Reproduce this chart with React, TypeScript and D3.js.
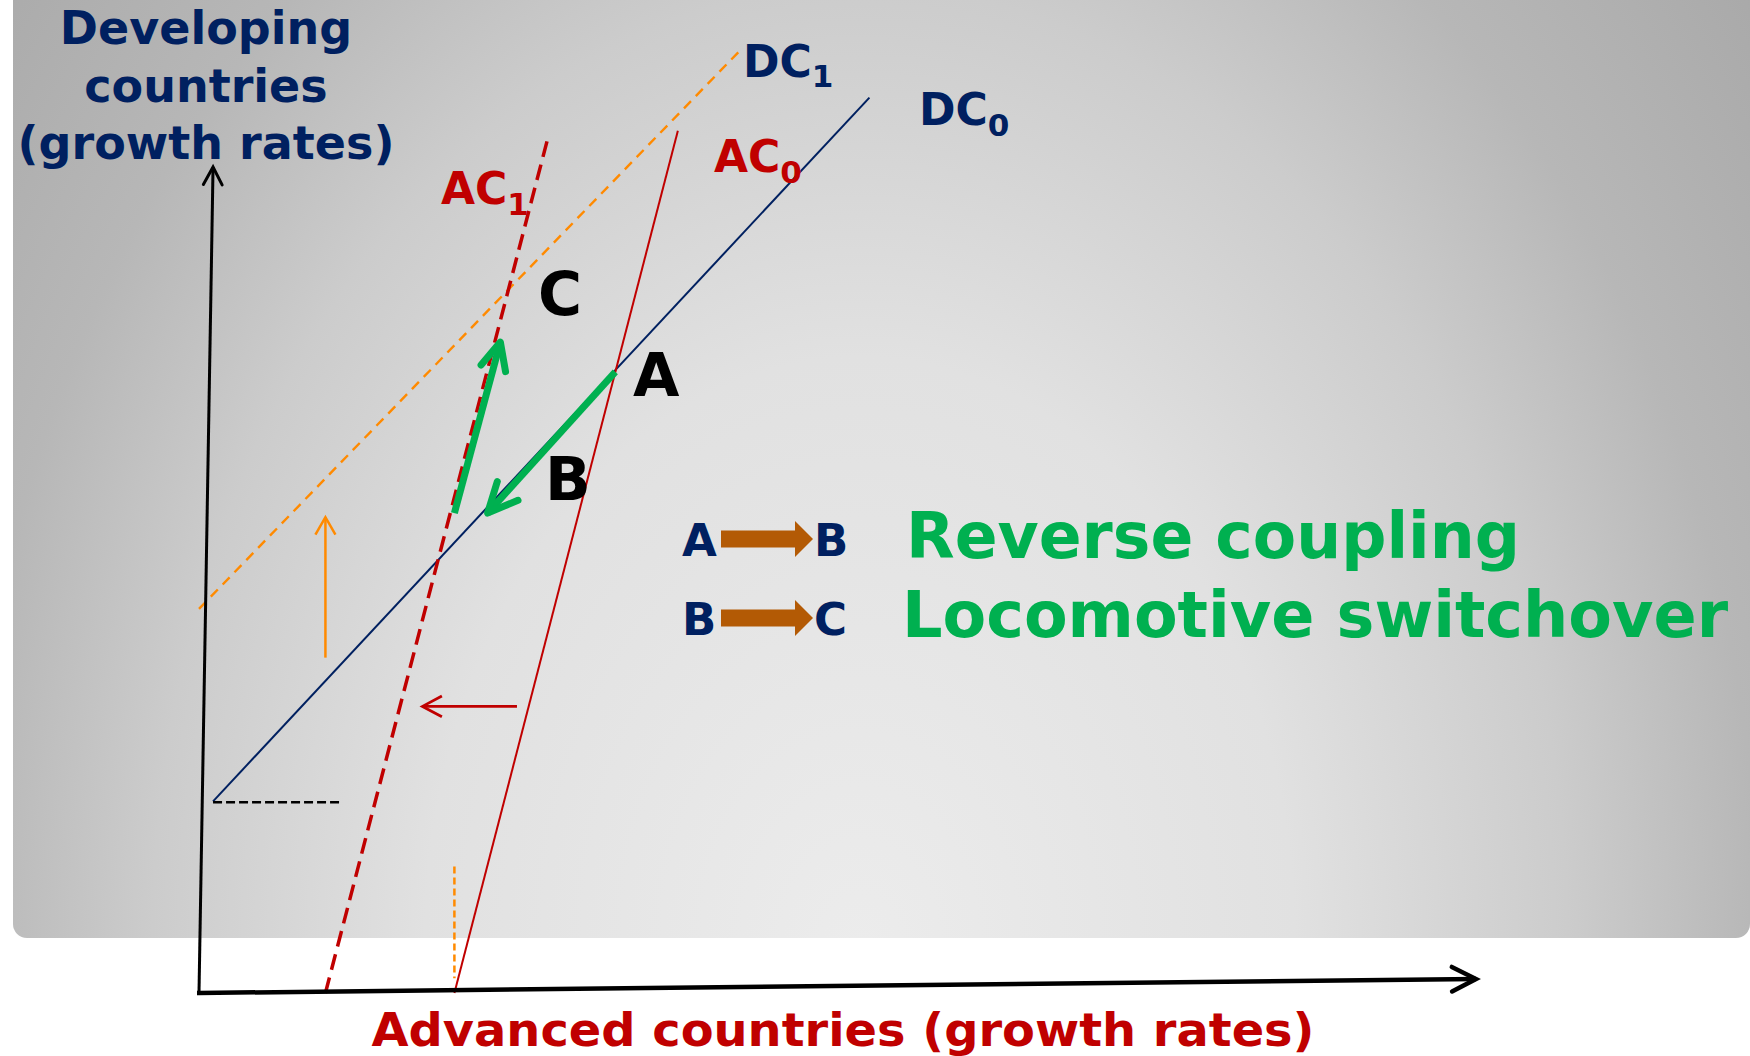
import React from "react";
import * as d3 from "d3";

type P = [number, number];

const W = 1750;
const H = 1056;

// Axes (data units, growth rates on an arbitrary 0-100 scale)
const yAxisPts: P[] = [[0, 0], [1.1, 100]];
const xAxisPts: P[] = [[0, 0], [100, 1.7]];

// Schedules
const DC0: P[] = [[1.1, 23.2], [52.5, 108.4]];
const DC1: P[] = [[0, 46.5], [42.3, 114.0]];
const AC0: P[] = [[20.0, 0], [37.5, 104.4]];
const AC1: P[] = [[9.9, 0], [27.3, 103.4]];

// Guides and shifts
const floorLine: P[] = [[1.1, 23.1], [11.0, 23.1]];
const shiftDC: P[] = [[9.9, 40.6], [9.9, 57.6]];
const shiftAC: P[] = [[24.9, 34.7], [17.5, 34.7]];
const guideAC: P[] = [[20.0, 15.3], [20.0, 1.8]];

// Moves between equilibria
const moveAB: P[] = [[32.6, 75.2], [22.6, 58.1]];
const moveBC: P[] = [[20.0, 58.1], [23.6, 78.8]];

const yTitle = ["Developing", "countries", "(growth rates)"];
const xTitle = "Advanced countries (growth rates)";
const legendRows = [
  { from: "A", to: "B", text: "Reverse coupling" },
  { from: "B", to: "C", text: "Locomotive switchover" },
];

const NAVY = "#002060";
const RED = "#c00000";
const GREEN = "#00b050";
const ORANGE = "#ff8a00";
const BROWN = "#b35a05";
const FONT = "'DejaVu Sans', Verdana, sans-serif";

export default function App() {
  const x = d3.scaleLinear().domain([0, 100]).range([199, 1476]);
  const y = d3.scaleLinear().domain([0, 100]).range([993, 167]);
  const line = d3
    .line<P>()
    .x((d) => x(d[0]))
    .y((d) => y(d[1]));

  const chevron = (pts: P[], len: number, halfDeg: number) => {
    const p0 = pts[pts.length - 2];
    const p1 = pts[pts.length - 1];
    const tx = x(p1[0]);
    const ty = y(p1[1]);
    const px = x(p0[0]);
    const py = y(p0[1]);
    const ang = Math.atan2(py - ty, px - tx);
    const h = (halfDeg * Math.PI) / 180;
    const a1 = [tx + len * Math.cos(ang + h), ty + len * Math.sin(ang + h)];
    const a2 = [tx + len * Math.cos(ang - h), ty + len * Math.sin(ang - h)];
    return `M${a1[0]},${a1[1]}L${tx},${ty}L${a2[0]},${a2[1]}`;
  };

  const blockArrow = (x0: number, x1: number, cy: number) => {
    const hl = 18;
    const bh = 8.5;
    const hh = 18;
    return `M${x0},${cy - bh}L${x1 - hl},${cy - bh}L${x1 - hl},${cy - hh}L${x1},${cy}L${x1 - hl},${cy + hh}L${x1 - hl},${cy + bh}L${x0},${cy + bh}Z`;
  };

  return (
    <svg
      width={W}
      height={H}
      style={{ position: "absolute", left: 0, top: 0, background: "#fff" }}
    >
      <defs>
        <radialGradient
          id="bg"
          gradientUnits="userSpaceOnUse"
          cx={0}
          cy={0}
          r={1}
          gradientTransform="translate(860,950) scale(1160,1580)"
        >
          <stop offset="0" stopColor="#ececec" />
          <stop offset="0.375" stopColor="#e1e1e1" />
          <stop offset="0.61" stopColor="#cccccc" />
          <stop offset="0.775" stopColor="#b7b7b7" />
          <stop offset="1" stopColor="#a8a8a8" />
        </radialGradient>
      </defs>

      <rect x={13} y={-20} width={1737} height={958} rx={14} fill="url(#bg)" />

      {/* Y axis title */}
      <text
        x={206}
        fontFamily={FONT}
        fontWeight="bold"
        fontSize={46}
        fill={NAVY}
        textAnchor="middle"
      >
        {yTitle.map((t, i) => (
          <tspan key={t} x={206} y={44 + i * 57.5}>
            {t}
          </tspan>
        ))}
      </text>

      {/* X axis title */}
      <text
        x={843}
        y={1046}
        fontFamily={FONT}
        fontWeight="bold"
        fontSize={47}
        fill={RED}
        textAnchor="middle"
        textLength={943}
        lengthAdjust="spacingAndGlyphs"
      >
        {xTitle}
      </text>

      {/* Schedules */}
      <path d={line(DC1)!} stroke={ORANGE} strokeWidth={2.4} strokeDasharray="10 7" fill="none" />
      <path d={line(DC0)!} stroke={NAVY} strokeWidth={2} fill="none" />
      <path d={line(AC0)!} stroke={RED} strokeWidth={2} fill="none" />
      <path d={line(AC1)!} stroke={RED} strokeWidth={3.5} strokeDasharray="16 8" fill="none" />

      {/* Guides */}
      <path d={line(floorLine)!} stroke="#000" strokeWidth={2.5} strokeDasharray="9 4" fill="none" />
      <path d={line(guideAC)!} stroke={ORANGE} strokeWidth={2.5} strokeDasharray="7 4" fill="none" />

      {/* Shift arrows */}
      <path d={line(shiftDC)!} stroke={ORANGE} strokeWidth={2.5} fill="none" />
      <path d={chevron(shiftDC, 20, 30)} stroke={ORANGE} strokeWidth={2.5} fill="none" />
      <path d={line(shiftAC)!} stroke={RED} strokeWidth={2.8} fill="none" />
      <path d={chevron(shiftAC, 22, 28)} stroke={RED} strokeWidth={2.8} fill="none" />

      {/* Green moves */}
      <path d={line(moveAB)!} stroke={GREEN} strokeWidth={7} fill="none" />
      <path d={chevron(moveAB, 33, 25)} stroke={GREEN} strokeWidth={7} strokeLinecap="round" strokeLinejoin="round" fill="none" />
      <path d={line(moveBC)!} stroke={GREEN} strokeWidth={7} fill="none" />
      <path d={chevron(moveBC, 30, 25)} stroke={GREEN} strokeWidth={7} strokeLinecap="round" strokeLinejoin="round" fill="none" />

      {/* Axes */}
      <path d={line(yAxisPts)!} stroke="#000" strokeWidth={3} fill="none" />
      <path d={chevron(yAxisPts, 20, 28)} stroke="#000" strokeWidth={3} strokeLinecap="round" fill="none" />
      <path d={line(xAxisPts)!} stroke="#000" strokeWidth={4.5} fill="none" />
      <path d={chevron(xAxisPts, 27, 27)} stroke="#000" strokeWidth={4.5} strokeLinecap="round" fill="none" />
      <path d={`M${x(0) - 2},${y(0)}L${x(0)},${y(0)}`} stroke="#000" strokeWidth={4.5} />

      {/* Curve labels */}
      <g fontFamily={FONT} fontWeight="bold" fontSize={44}>
        <text x={743} y={77} fill={NAVY}>
          DC<tspan fontSize={31} dy={10}>1</tspan>
        </text>
        <text x={919} y={125} fill={NAVY}>
          DC<tspan fontSize={31} dy={11}>0</tspan>
        </text>
        <text x={714} y={172} fill={RED}>
          AC<tspan fontSize={31} dy={11}>0</tspan>
        </text>
        <text x={441} y={204} fill={RED}>
          AC<tspan fontSize={31} dy={11}>1</tspan>
        </text>
      </g>

      {/* Equilibrium points */}
      <g fontFamily={FONT} fontWeight="bold" fontSize={60} fill="#000">
        <text x={538} y={315}>C</text>
        <text x={633} y={396}>A</text>
        <text x={545} y={500}>B</text>
      </g>

      {/* Legend */}
      {legendRows.map((r, i) => {
        const base = i === 0 ? 556 : 635;
        const cy = base - 17;
        return (
          <g key={r.text}>
            <text x={682} y={base} fontFamily={FONT} fontWeight="bold" fontSize={45} fill={NAVY}>
              {r.from}
            </text>
            <path d={blockArrow(721, 813, cy)} fill={BROWN} />
            <text x={814} y={base} fontFamily={FONT} fontWeight="bold" fontSize={45} fill={NAVY}>
              {r.to}
            </text>
            <text
              x={i === 0 ? 906 : 902}
              y={base + 2}
              fontFamily={FONT}
              fontWeight="bold"
              fontSize={64}
              fill={GREEN}
              textLength={i === 0 ? 614 : 826}
              lengthAdjust="spacingAndGlyphs"
            >
              {r.text}
            </text>
          </g>
        );
      })}
    </svg>
  );
}
